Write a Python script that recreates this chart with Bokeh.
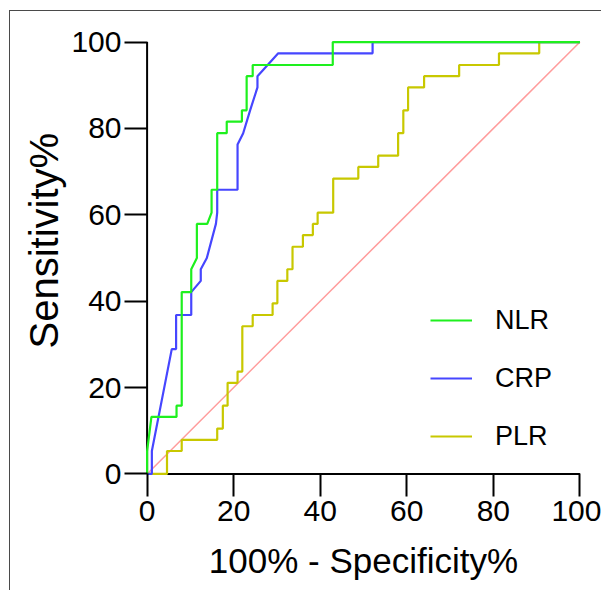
from bokeh.plotting import figure
from bokeh.models import Range1d, Legend, LegendItem, FixedTicker, Title
from bokeh.embed import file_html
from bokeh.resources import INLINE

# ---- data ----
nlr_fpr = [0, 0, 1.0, 6.8, 6.8, 8.0, 8.0, 10.2, 10.2, 11.5, 11.5, 13.9, 14.9, 14.9,
           16.2, 16.2, 18.4, 18.4, 21.9, 21.9, 23.0, 23.0, 24.4, 24.4, 42.9, 42.9, 100]
nlr_tpr = [0, 5.3, 13.2, 13.2, 15.8, 15.8, 42.1, 42.1, 47.4, 50.0, 57.9, 57.9, 60.5, 65.8,
           65.8, 78.9, 78.9, 81.6, 81.6, 84.2, 84.2, 92.1, 92.1, 94.7, 94.7, 100, 100]

crp_fpr = [0, 1.1, 1.1, 5.7, 6.7, 6.7, 10.2, 10.2, 12.4, 12.4, 13.8, 15.9, 16.2, 16.2,
           20.9, 20.9, 22.2, 23.8, 25.5, 25.5, 30.3, 52.1, 52.1, 100]
crp_tpr = [0, 0, 5.3, 28.9, 28.9, 36.8, 36.8, 42.1, 44.7, 47.4, 50.0, 57.9, 60.5, 65.8,
           65.8, 76.3, 78.9, 84.2, 89.5, 92.1, 97.4, 97.4, 100, 100]

plr_fpr = [0, 4.6, 4.6, 8.0, 8.0, 16.2, 16.2, 17.5, 17.5, 18.6, 18.6, 20.9, 20.9, 22.0,
           22.0, 24.4, 24.4, 29.0, 29.0, 30.1, 30.1, 32.4, 32.4, 33.6, 33.6, 36.0, 36.0,
           38.3, 38.3, 39.4, 39.4, 43.0, 43.0, 48.8, 48.8, 53.4, 53.4, 58.0, 58.0, 59.2,
           59.2, 60.3, 60.3, 64.0, 64.0, 72.1, 72.1, 81.3, 81.3, 90.6, 90.6, 100]
plr_tpr = [0, 0, 5.3, 5.3, 7.9, 7.9, 10.5, 10.5, 15.8, 15.8, 21.1, 21.1, 23.7, 23.7,
           34.2, 34.2, 36.8, 36.8, 39.5, 39.5, 44.7, 44.7, 47.4, 47.4, 52.6, 52.6, 55.3,
           55.3, 57.9, 57.9, 60.5, 60.5, 68.4, 68.4, 71.1, 71.1, 73.7, 73.7, 78.9, 78.9,
           84.2, 84.2, 89.5, 89.5, 92.1, 92.1, 94.7, 94.7, 97.4, 97.4, 100, 100]

ref_line = [0, 100]
ticks = [0, 20, 40, 60, 80, 100]
series_names = ["NLR", "CRP", "PLR"]
x_title = "100% - Specificity%"
y_title = "Sensitivity%"

AX_MIN, AX_MAX = 0, 100
PAD = 0.6
FONT = "Liberation Sans"

p = figure(x_range=Range1d(AX_MIN - PAD, AX_MAX + PAD),
           y_range=Range1d(AX_MIN - PAD, AX_MAX + PAD),
           width=592, height=580,
           min_border_left=134, min_border_right=20,
           min_border_top=28, min_border_bottom=115,
           output_backend="svg", toolbar_location=None)
p.margin = (10, 0, 0, 9)
p.styles = {"border-left": "1.5px solid #4a4a4a", "border-top": "1.5px solid #4a4a4a"}
p.outline_line_color = None
p.grid.visible = False
p.background_fill_color = "white"
p.border_fill_color = "white"

for ax in (p.xaxis[0], p.yaxis[0]):
    ax.ticker = FixedTicker(ticks=ticks)
    ax.axis_line_color = None
    ax.major_tick_line_color = "black"
    ax.major_tick_line_width = 2
    ax.major_tick_out = 20
    ax.major_tick_in = 3
    ax.minor_tick_line_color = None
    ax.major_label_text_font = FONT
    ax.major_label_text_font_size = "30px"
    ax.major_label_text_color = "black"
    ax.axis_label_text_font = FONT
    ax.axis_label_text_font_style = "normal"
    ax.axis_label_text_color = "black"

p.xaxis[0].axis_label = x_title
p.xaxis[0].axis_label_text_font_size = "35px"
p.xaxis[0].major_label_standoff = 4
p.yaxis[0].major_label_standoff = 3
p.xaxis[0].axis_label_standoff = 17

# y title, set a little above the frame centre as in the reference
p.add_layout(Title(text=y_title, align="left", offset=128, standoff=6,
                   text_font=FONT, text_font_size="40px", text_font_style="normal",
                   text_color="black"), "left")

# axis lines at the data origin
p.line([AX_MIN, AX_MAX], [AX_MIN, AX_MIN], line_color="black", line_width=2)
p.line([AX_MIN, AX_MIN], [AX_MIN, AX_MAX], line_color="black", line_width=2)

# reference diagonal
p.line(ref_line, ref_line, line_color="#FF9C9C", line_width=1.5)

r_plr = p.line(plr_fpr, plr_tpr, line_color="#C8C800", line_width=2.2)
r_crp = p.line(crp_fpr, crp_tpr, line_color="#4646FF", line_width=2.2)
r_nlr = p.line(nlr_fpr, nlr_tpr, line_color="#1EF01E", line_width=2.2)

legend = Legend(items=[LegendItem(label=series_names[0], renderers=[r_nlr]),
                       LegendItem(label=series_names[1], renderers=[r_crp]),
                       LegendItem(label=series_names[2], renderers=[r_plr])],
                location=(286, 20), orientation="vertical")
legend.background_fill_alpha = 0
legend.border_line_color = None
legend.padding = 0
legend.margin = 0
legend.glyph_width = 42
legend.glyph_height = 40
legend.label_height = 40
legend.spacing = 18
legend.label_standoff = 23
legend.label_text_font = FONT
legend.label_text_font_size = "27px"
legend.label_text_color = "black"
p.add_layout(legend, "center")

open("out.html", "w").write(file_html(p, INLINE))
